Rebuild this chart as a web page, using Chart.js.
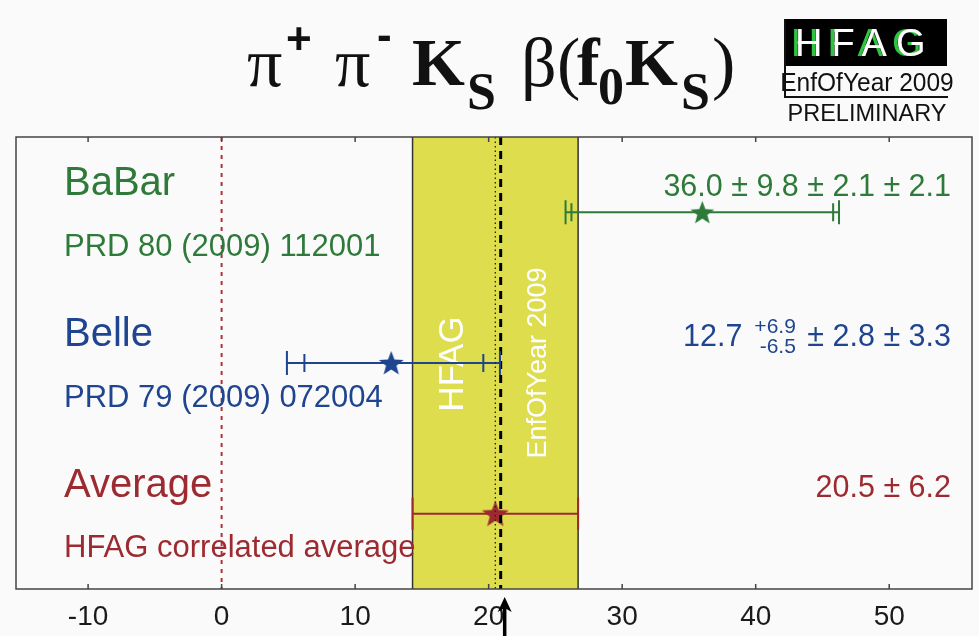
<!DOCTYPE html>
<html><head><meta charset="utf-8">
<script src="https://cdn.jsdelivr.net/npm/chart.js@4.4.0/dist/chart.umd.min.js"></script>
<style>
html,body{margin:0;padding:0;background:#fafafa;}
#wrap{position:relative;width:979px;height:636px;overflow:hidden;background:#fafafa;}
#c{position:absolute;left:0;top:0;}
#title .g{position:absolute;line-height:1;white-space:nowrap;color:#111;font-family:"Liberation Serif",serif;}
#title .b{font-weight:bold;}
#title .s{font-family:"Liberation Sans",sans-serif;font-weight:bold;}
#logoBox{position:absolute;left:784px;top:19px;width:163px;height:47px;background:#000;}
#logoText{position:absolute;left:795px;top:19px;font-family:"Liberation Sans",sans-serif;font-size:38px;line-height:48px;color:#fff;letter-spacing:9px;text-shadow:-4px 0 0 #2fc43f;}
#logoV{position:absolute;left:784px;top:19px;width:2px;height:79px;background:#111;}
#logoH{position:absolute;left:784px;top:96px;width:164px;height:2px;background:#111;}
#logoYear{position:absolute;left:767px;top:67px;width:200px;text-align:center;font-family:"Liberation Sans",sans-serif;font-size:25px;line-height:30px;color:#111;transform:scaleX(0.98);}
#logoPre{position:absolute;left:767px;top:99px;width:200px;text-align:center;font-family:"Liberation Sans",sans-serif;font-size:23.5px;line-height:28px;color:#111;}
</style></head><body>
<div id="wrap">
<canvas id="c" width="979" height="636"></canvas>
<div id="title">
<span class="g" style="left:247px;top:28px;font-size:70px">π</span>
<span class="g s" style="left:286px;top:17px;font-size:44px">+</span>
<span class="g" style="left:335px;top:28px;font-size:70px">π</span>
<span class="g s" style="left:377px;top:13px;font-size:44px">-</span>
<span class="g b" style="left:412px;top:28px;font-size:68px">K</span>
<span class="g b" style="left:467px;top:66px;font-size:52px">S</span>
<span class="g" style="left:521px;top:28px;font-size:70px">β</span>
<span class="g" style="left:557px;top:28px;font-size:70px">(</span>
<span class="g b" style="left:577px;top:28px;font-size:68px">f</span>
<span class="g b" style="left:598px;top:61px;font-size:52px">0</span>
<span class="g b" style="left:625px;top:28px;font-size:68px">K</span>
<span class="g b" style="left:681px;top:66px;font-size:52px">S</span>
<span class="g" style="left:712px;top:28px;font-size:70px">)</span>
</div>
<div id="logo"><div id="logoBox"></div><div id="logoText">HFAG</div><div id="logoV"></div><div id="logoH"></div><div id="logoYear">EnfOfYear 2009</div><div id="logoPre">PRELIMINARY</div></div>
</div>
<script>
// ---- data ----
const experiments = ['BaBar', 'Belle', 'Average'];
const references = ['PRD 80 (2009) 112001', 'PRD 79 (2009) 072004', 'HFAG correlated average'];
const centralValues = [36.0, 12.7, 20.5];
const statPlus = [9.8, 6.9, 6.2];
const statMinus = [9.8, 6.5, 6.2];
const systA = [2.1, 2.8, 0];
const systB = [2.1, 3.3, 0];
const rowPositions = [3, 2, 1];
const rowColors = ['#2e7a3a', '#1f4590', '#9c2a30'];
const xTickValues = [-10, 0, 10, 20, 30, 40, 50];
const xMin = -15.4, xMax = 56.2;
const averageValue = 20.5, averageError = 6.2;
const referenceLineValue = 0;
const dashedLineValue = 20.9;
const arrowValue = 21.2;

// ---- derived ----
const totPlus = centralValues.map((c, i) => Math.sqrt(statPlus[i]**2 + systA[i]**2 + systB[i]**2));
const totMinus = centralValues.map((c, i) => Math.sqrt(statMinus[i]**2 + systA[i]**2 + systB[i]**2));

function makeStar(color, size) {
  const cv = document.createElement('canvas');
  cv.width = size; cv.height = size;
  const g = cv.getContext('2d');
  const cx = size / 2, cy = size / 2 + size * 0.04, R = size / 2, r = R * 0.42;
  g.beginPath();
  for (let k = 0; k < 10; k++) {
    const a = -Math.PI / 2 + k * Math.PI / 5;
    const rr = k % 2 === 0 ? R : r;
    g.lineTo(cx + rr * Math.cos(a), cy + rr * Math.sin(a));
  }
  g.closePath(); g.fillStyle = color; g.fill();
  return cv;
}
const starSizes = [25, 26, 28];
const stars = rowColors.map((c, i) => makeStar(c, starSizes[i]));

const datasets = [{
  type: 'scatter', order: 0,
  data: centralValues.map((v, i) => ({x: v, y: rowPositions[i]})),
  pointStyle: stars, pointRadius: 12, pointBackgroundColor: rowColors, pointBorderColor: rowColors
}];
centralValues.forEach((v, i) => {
  datasets.push({
    type: 'line', order: 1,
    data: [{x: v - totMinus[i], y: rowPositions[i]}, {x: v + totPlus[i], y: rowPositions[i]}],
    borderColor: rowColors[i], borderWidth: 2, pointRadius: 0, fill: false
  });
});

const SANS = '"Liberation Sans", Arial, sans-serif';

const hfagPlugin = {
  id: 'hfag',
  beforeDatasetsDraw(chart) {
    const {ctx, chartArea: a, scales: {x}} = chart;
    const yMid = chart.scales.y.getPixelForValue(2);
    ctx.save();
    // yellow band
    const bl = x.getPixelForValue(averageValue - averageError);
    const br = x.getPixelForValue(averageValue + averageError);
    ctx.fillStyle = 'rgb(221,221,78)';
    ctx.fillRect(bl, a.top, br - bl, a.bottom - a.top);
    ctx.strokeStyle = '#333'; ctx.lineWidth = 1.5;
    ctx.beginPath(); ctx.moveTo(bl, a.top); ctx.lineTo(bl, a.bottom);
    ctx.moveTo(br, a.top); ctx.lineTo(br, a.bottom); ctx.stroke();
    // rotated band texts
    ctx.fillStyle = '#ffffff';
    ctx.textAlign = 'center'; ctx.textBaseline = 'middle';
    ctx.save(); ctx.translate(bl + 41, yMid + 1); ctx.rotate(-Math.PI / 2);
    ctx.font = '35px ' + SANS; ctx.fillText('HFAG', 0, 0); ctx.restore();
    ctx.save(); ctx.translate(bl + 126, yMid); ctx.rotate(-Math.PI / 2);
    ctx.font = '27px ' + SANS; ctx.fillText('EnfOfYear 2009', 0, 0); ctx.restore();
    // red dotted line at 0
    const x0 = x.getPixelForValue(referenceLineValue);
    ctx.strokeStyle = '#b0323a'; ctx.lineWidth = 2; ctx.setLineDash([4, 5]);
    ctx.beginPath(); ctx.moveTo(x0, a.top); ctx.lineTo(x0, a.bottom); ctx.stroke();
    ctx.setLineDash([]);
    // row texts
    ctx.textAlign = 'left'; ctx.textBaseline = 'middle';
    experiments.forEach((name, i) => {
      const y = chart.scales.y.getPixelForValue(rowPositions[i]);
      ctx.fillStyle = rowColors[i];
      ctx.font = '40px ' + SANS; ctx.fillText(name, 64, y - 28);
      ctx.font = '31px ' + SANS; ctx.fillText(references[i], 64, y + 35);
    });
    ctx.restore();
  },
  afterDatasetsDraw(chart) {
    const {ctx, chartArea: a, scales: {x, y}} = chart;
    ctx.save();
    // average lines
    const xa = x.getPixelForValue(averageValue);
    ctx.strokeStyle = '#222'; ctx.lineWidth = 1.3; ctx.setLineDash([1.5, 3]);
    ctx.beginPath(); ctx.moveTo(xa, a.top); ctx.lineTo(xa, a.bottom); ctx.stroke();
    const xd = x.getPixelForValue(dashedLineValue);
    ctx.strokeStyle = '#000'; ctx.lineWidth = 3; ctx.setLineDash([8, 6]);
    ctx.beginPath(); ctx.moveTo(xd, a.top); ctx.lineTo(xd, a.bottom); ctx.stroke();
    ctx.setLineDash([]);
    // error bar end ticks
    ctx.lineWidth = 2;
    centralValues.forEach((v, i) => {
      const py = y.getPixelForValue(rowPositions[i]);
      ctx.strokeStyle = rowColors[i];
      const hasSyst = systA[i] > 0 || systB[i] > 0;
      const outerH = hasSyst ? 12 : 16;
      ctx.beginPath();
      [v - totMinus[i], v + totPlus[i]].forEach(t => {
        const px = x.getPixelForValue(t);
        ctx.moveTo(px, py - outerH); ctx.lineTo(px, py + outerH);
      });
      if (hasSyst) {
        [v - statMinus[i], v + statPlus[i]].forEach(t => {
          const px = x.getPixelForValue(t);
          ctx.moveTo(px, py - 9); ctx.lineTo(px, py + 9);
        });
      }
      ctx.stroke();
    });
    // result labels (right)
    const xr = 951;
    ctx.textBaseline = 'middle';
    centralValues.forEach((v, i) => {
      const py = y.getPixelForValue(rowPositions[i]) - 25;
      ctx.fillStyle = rowColors[i];
      ctx.font = '30.5px ' + SANS; ctx.textAlign = 'right';
      const syst = [systA[i], systB[i]].filter(s => s > 0).map(s => ' ± ' + s.toFixed(1)).join('');
      if (statPlus[i] === statMinus[i]) {
        ctx.fillText(v.toFixed(1) + ' ± ' + statPlus[i].toFixed(1) + syst, xr, py);
      } else {
        ctx.fillText(syst, xr, py);
        const w1 = ctx.measureText(syst).width;
        ctx.font = '21px ' + SANS;
        const sp = '+' + statPlus[i].toFixed(1), sm = '-' + statMinus[i].toFixed(1);
        const x2 = xr - w1 - 3;
        ctx.fillText(sp, x2, py - 11);
        ctx.fillText(sm, x2, py + 9);
        const w2 = Math.max(ctx.measureText(sp).width, ctx.measureText(sm).width);
        ctx.font = '30.5px ' + SANS;
        ctx.fillText(v.toFixed(1), x2 - w2 - 12, py);
      }
    });
    // frame
    ctx.strokeStyle = '#444'; ctx.lineWidth = 1.5;
    ctx.strokeRect(a.left, a.top, a.right - a.left, a.bottom - a.top);
    // inward axis ticks top & bottom
    ctx.beginPath();
    xTickValues.forEach(t => {
      const px = x.getPixelForValue(t);
      ctx.moveTo(px, a.bottom); ctx.lineTo(px, a.bottom - 5);
      ctx.moveTo(px, a.top); ctx.lineTo(px, a.top + 5);
    });
    ctx.stroke();
    ctx.restore();
  },
  afterDraw(chart) {
    const {ctx, chartArea: a, scales: {x}} = chart;
    const px = x.getPixelForValue(arrowValue);
    ctx.save();
    ctx.fillStyle = '#000'; ctx.strokeStyle = '#000';
    ctx.lineWidth = 3.5;
    ctx.beginPath(); ctx.moveTo(px, 636); ctx.lineTo(px, a.bottom + 15); ctx.stroke();
    ctx.beginPath(); ctx.moveTo(px, a.bottom + 8); ctx.lineTo(px - 7, a.bottom + 23);
    ctx.lineTo(px, a.bottom + 19); ctx.lineTo(px + 7, a.bottom + 23); ctx.closePath(); ctx.fill();
    ctx.restore();
  }
};

new Chart(document.getElementById('c').getContext('2d'), {
  type: 'scatter',
  data: {datasets},
  options: {
    responsive: false, animation: false,
    layout: {autoPadding: false, padding: {left: 16, right: 7, top: 137, bottom: 0}},
    plugins: {legend: {display: false}, tooltip: {enabled: false}},
    scales: {
      x: {
        type: 'linear', position: 'bottom', min: xMin, max: xMax,
        afterBuildTicks: s => { s.ticks = xTickValues.map(v => ({value: v})); },
        afterFit: s => { s.height = 47; },
        grid: {display: false, drawTicks: false}, border: {display: false},
        ticks: {font: {family: 'Liberation Sans', size: 28}, color: '#1a1a1a', padding: 11}
      },
      y: {type: 'linear', min: 0.5, max: 3.5, display: false}
    }
  },
  plugins: [hfagPlugin]
});
</script>
</body></html>
